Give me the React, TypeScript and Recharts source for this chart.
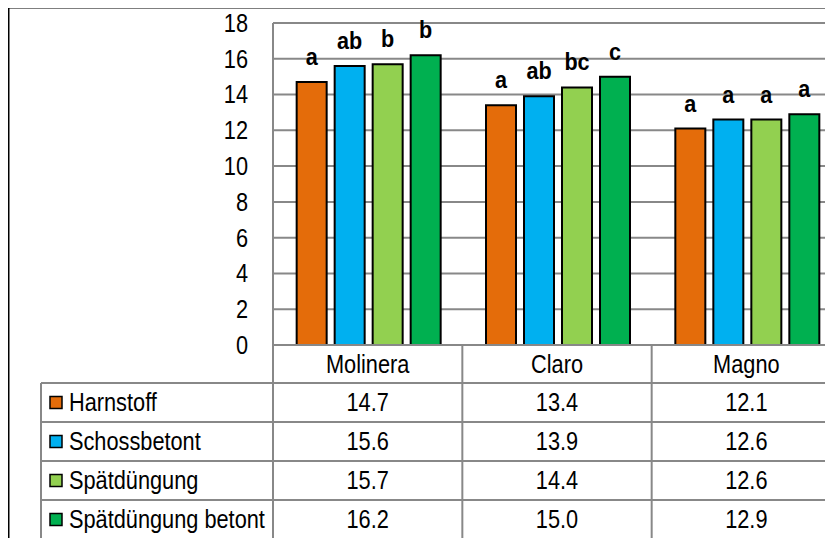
import React from 'react';
import { BarChart, Bar, XAxis, YAxis, CartesianGrid, LabelList } from 'recharts';

const CATEGORIES = ['Molinera', 'Claro', 'Magno'];
const SERIES_NAMES = ['Harnstoff', 'Schossbetont', 'Spätdüngung', 'Spätdüngung betont'];
const HARNSTOFF = [14.7, 13.4, 12.1];
const SCHOSSBETONT = [15.6, 13.9, 12.6];
const SPAETDUENGUNG = [15.7, 14.4, 12.6];
const SPAETDUENGUNG_BETONT = [16.2, 15.0, 12.9];
const LETTERS_HARNSTOFF = ['a', 'a', 'a'];
const LETTERS_SCHOSSBETONT = ['ab', 'ab', 'a'];
const LETTERS_SPAETDUENGUNG = ['b', 'bc', 'a'];
const LETTERS_SPAETDUENGUNG_BETONT = ['b', 'c', 'a'];
const Y_TICKS = [0, 2, 4, 6, 8, 10, 12, 14, 16, 18];
const COLORS = ['#E46C0A', '#00B0F0', '#92D050', '#00B050'];

const SERIES_VALUES = [HARNSTOFF, SCHOSSBETONT, SPAETDUENGUNG, SPAETDUENGUNG_BETONT];
const SERIES_LETTERS = [LETTERS_HARNSTOFF, LETTERS_SCHOSSBETONT, LETTERS_SPAETDUENGUNG, LETTERS_SPAETDUENGUNG_BETONT];

const data = CATEGORIES.map((name, i) => {
  const row: any = { name };
  SERIES_VALUES.forEach((vals, s) => {
    row['v' + s] = vals[i];
    row['l' + s] = SERIES_LETTERS[s][i];
  });
  return row;
});

const FONT = '"Liberation Sans", Arial, sans-serif';
const SX = 0.87;
const SX_BOLD = 0.9;
const GRID = '#888888';

const W = 840;
const H = 535;
const MARGIN = { top: 16, right: 7, left: 205, bottom: 159 };
const Y_WIDTH = 60;
const X_HEIGHT = 38;
const PLOT_LEFT = MARGIN.left + Y_WIDTH;
const PLOT_RIGHT = W - MARGIN.right;
const PLOT_BOTTOM = H - MARGIN.bottom - X_HEIGHT;
const BAND = (PLOT_RIGHT - PLOT_LEFT) / CATEGORIES.length;
const HEADER_BOTTOM = PLOT_BOTTOM + X_HEIGHT;
const ROW_H = 39;
const TABLE_LEFT = 33;

function T({ x, y, anchor = 'middle', size = 25, bold = false, dy = '0.355em', children }: any) {
  return (
    <text
      transform={`translate(${x},${y}) scale(${bold ? SX_BOLD : SX},1)`}
      x={0}
      y={0}
      dy={dy}
      textAnchor={anchor}
      fontFamily={FONT}
      fontSize={size}
      fontWeight={bold ? 'bold' : 'normal'}
      fill="#000"
    >
      {children}
    </text>
  );
}

const YTick = (props: any) => <T x={props.x} y={props.y} anchor="end">{props.payload.value}</T>;
const XTick = (props: any) => <T x={props.x} y={props.y}>{props.payload.value}</T>;

const letterContent = (props: any) => {
  const { x, y, width, value } = props;
  return (
    <T x={Number(x) + Number(width) / 2} y={Number(y) - 17} dy={0} size={24} bold>
      {value}
    </T>
  );
};

function TableOverlay() {
  const lines: any[] = [];
  const nRows = SERIES_NAMES.length + 1;
  for (let i = 0; i <= CATEGORIES.length; i++) {
    const x = PLOT_LEFT + i * BAND;
    lines.push(<line key={'v' + i} x1={x} x2={x} y1={PLOT_BOTTOM} y2={H} stroke={GRID} strokeWidth={2} />);
  }
  lines.push(<line key="vl" x1={TABLE_LEFT} x2={TABLE_LEFT} y1={HEADER_BOTTOM} y2={H} stroke={GRID} strokeWidth={2} />);
  for (let k = 0; k < nRows; k++) {
    const y = HEADER_BOTTOM + k * ROW_H;
    lines.push(<line key={'h' + k} x1={TABLE_LEFT} x2={W} y1={y} y2={y} stroke={GRID} strokeWidth={2} />);
  }
  const cells: any[] = [];
  SERIES_NAMES.forEach((name, s) => {
    const cy = HEADER_BOTTOM + s * ROW_H + ROW_H / 2;
    cells.push(
      <rect key={'k' + s} x={42} y={cy - 6} width={12} height={12} fill={COLORS[s]} stroke="#000" strokeWidth={1.5} />
    );
    cells.push(<T key={'n' + s} x={61} y={cy} anchor="start">{name}</T>);
    SERIES_VALUES[s].forEach((v, i) => {
      cells.push(<T key={'c' + s + '-' + i} x={PLOT_LEFT + (i + 0.5) * BAND} y={cy}>{v.toFixed(1)}</T>);
    });
  });
  return (
    <svg width={W} height={H} style={{ position: 'absolute', left: 0, top: 0, pointerEvents: 'none' }}>
      <line x1={0} x2={W} y1={0.75} y2={0.75} stroke="#000" strokeWidth={1.5} />
      <line x1={0.75} x2={0.75} y1={0} y2={H} stroke="#000" strokeWidth={1.5} />
      {lines}
      {cells}
    </svg>
  );
}

export default function App() {
  return (
    <div style={{ position: 'relative', top: -1, width: W, height: H }}>
      <style>{'html,body{overflow:hidden;}'}</style>
      <BarChart
        width={W}
        height={H}
        data={data}
        margin={MARGIN}
        barCategoryGap="12.5%"
        barGap={8}
      >
        <CartesianGrid vertical={false} stroke={GRID} strokeWidth={2} />
        <XAxis
          dataKey="name"
          height={X_HEIGHT}
          axisLine={{ stroke: GRID, strokeWidth: 2 }}
          tickLine={false}
          tickSize={0}
          tickMargin={19}
          tick={<XTick />}
          interval={0}
        />
        <YAxis
          width={Y_WIDTH}
          domain={[0, 18]}
          ticks={Y_TICKS}
          interval={0}
          axisLine={{ stroke: GRID, strokeWidth: 2 }}
          tickLine={false}
          tickSize={0}
          tickMargin={25}
          tick={<YTick />}
        />
        {SERIES_NAMES.map((name, s) => (
          <Bar
            key={name}
            dataKey={'v' + s}
            name={name}
            fill={COLORS[s]}
            stroke="#000"
            strokeWidth={2}
            isAnimationActive={false}
          >
            <LabelList dataKey={'l' + s} content={letterContent} />
          </Bar>
        ))}
      </BarChart>
      <TableOverlay />
    </div>
  );
}
